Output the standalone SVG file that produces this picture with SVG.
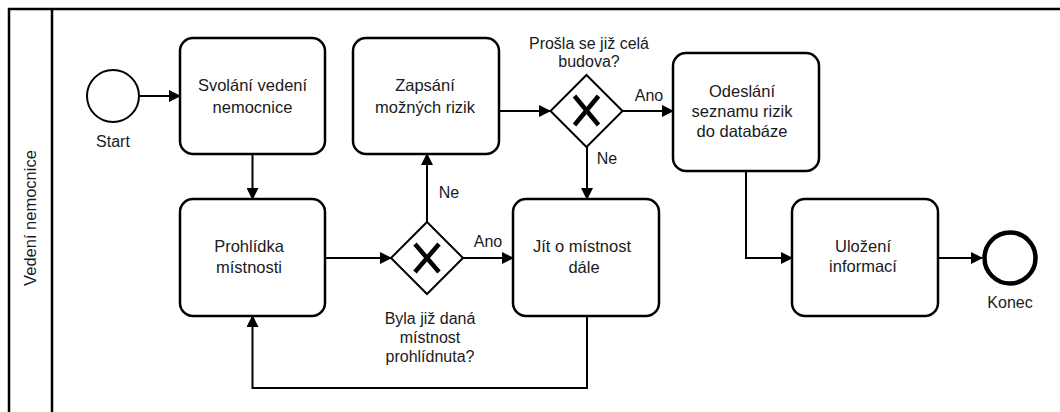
<svg xmlns="http://www.w3.org/2000/svg" width="1060" height="412" viewBox="0 0 1060 412">
  <defs>
    <marker id="arrow" viewBox="0 0 12 12" refX="11" refY="6" markerWidth="12" markerHeight="12" markerUnits="userSpaceOnUse" orient="auto">
      <path d="M0,0 L12,6 L0,12 Z" fill="#000"/>
    </marker>
    <style>
      text { font-family: "Liberation Sans", Arial, sans-serif; fill: #1a1a22; text-anchor: middle; }
      .task rect { fill: #fff; stroke: #000; stroke-width: 2.5; }
      .task text { font-size: 16.5px; }
      .lbl { font-size: 16px; }
      .gw path.d { fill: #fff; stroke: #000; stroke-width: 2; }
      .gw path.x { fill: none; stroke: #000; stroke-width: 4.5; }
      .flow { fill: none; stroke: #000; stroke-width: 2; }
      .pool { fill: none; stroke: #000; stroke-width: 2.5; }
    </style>
  </defs>
  <rect width="1060" height="412" fill="#fff"/>

  <!-- pool with one lane -->
  <g id="pool">
    <path class="pool" d="M9,412 V9 H1062"/>
    <path class="pool" d="M52,9 V412"/>
    <text class="lbl" transform="translate(36,218) rotate(-90)" style="font-size:16.5px">Vedení nemocnice</text>
  </g>

  <!-- sequence flows -->
  <g id="connectors">
    <path class="flow" d="M139,96 H180" marker-end="url(#arrow)"/>
    <path class="flow" d="M252.5,154 V199" marker-end="url(#arrow)"/>
    <path class="flow" d="M325,258 H391" marker-end="url(#arrow)"/>
    <path class="flow" d="M463,258 H513" marker-end="url(#arrow)"/>
    <path class="flow" d="M427,222 V154" marker-end="url(#arrow)"/>
    <path class="flow" d="M587,316 V388 H252.5 V316" marker-end="url(#arrow)"/>
    <path class="flow" d="M499,111 H550" marker-end="url(#arrow)"/>
    <path class="flow" d="M622,111 H673" marker-end="url(#arrow)"/>
    <path class="flow" d="M587,147 V199" marker-end="url(#arrow)"/>
    <path class="flow" d="M746,171 V258 H792" marker-end="url(#arrow)"/>
    <path class="flow" d="M938,258 H982" marker-end="url(#arrow)"/>
    <text class="lbl" x="649" y="101">Ano</text>
    <text class="lbl" x="607" y="164">Ne</text>
    <text class="lbl" x="449" y="198">Ne</text>
    <text class="lbl" x="488" y="247">Ano</text>
  </g>

  <g id="start">
    <circle cx="113" cy="96" r="26" fill="#fff" stroke="#000" stroke-width="2"/>
    <text class="lbl" x="113" y="147">Start</text>
  </g>

  <g id="svolani" class="task">
    <rect x="180" y="38" width="145" height="116" rx="13"/>
    <text x="252.5" y="91">Svolání vedení</text>
    <text x="252.5" y="113">nemocnice</text>
  </g>

  <g id="prohlidka" class="task">
    <rect x="180" y="199" width="145" height="117" rx="13"/>
    <text x="249" y="252">Prohlídka</text>
    <text x="249" y="273">místnosti</text>
  </g>

  <g id="gw-prohlidnuta" class="gw">
    <path class="d" d="M427,222 L463,258 L427,294 L391,258 Z"/>
    <path class="x" d="M415,244 L439,272 M439,244 L415,272"/>
    <text class="lbl" x="430" y="324">Byla již daná</text>
    <text class="lbl" x="430" y="343">místnost</text>
    <text class="lbl" x="430" y="362">prohlídnuta?</text>
  </g>

  <g id="zapsani" class="task">
    <rect x="353" y="38" width="146" height="116" rx="13"/>
    <text x="425" y="91">Zapsání</text>
    <text x="425" y="113">možných rizik</text>
  </g>

  <g id="jit" class="task">
    <rect x="513" y="199" width="146" height="117" rx="13"/>
    <text x="582" y="252">Jít o místnost</text>
    <text x="584" y="273">dále</text>
  </g>

  <g id="gw-budova" class="gw">
    <path class="d" d="M586.5,75 L622.5,111 L586.5,147 L550.5,111 Z"/>
    <path class="x" d="M574.5,96 L598.5,125 M598.5,96 L574.5,125"/>
    <text class="lbl" x="589" y="49">Prošla se již celá</text>
    <text class="lbl" x="589" y="67">budova?</text>
  </g>

  <g id="odeslani" class="task">
    <rect x="673" y="53" width="146" height="118" rx="13"/>
    <text x="742" y="97">Odeslání</text>
    <text x="742" y="117">seznamu rizik</text>
    <text x="742" y="137">do databáze</text>
  </g>

  <g id="ulozeni" class="task">
    <rect x="792" y="199" width="146" height="117" rx="13"/>
    <text x="863" y="252">Uložení</text>
    <text x="863" y="272">informací</text>
  </g>

  <g id="konec">
    <circle cx="1010" cy="258" r="25.5" fill="#fff" stroke="#000" stroke-width="4.5"/>
    <text class="lbl" x="1010" y="308">Konec</text>
  </g>
</svg>
